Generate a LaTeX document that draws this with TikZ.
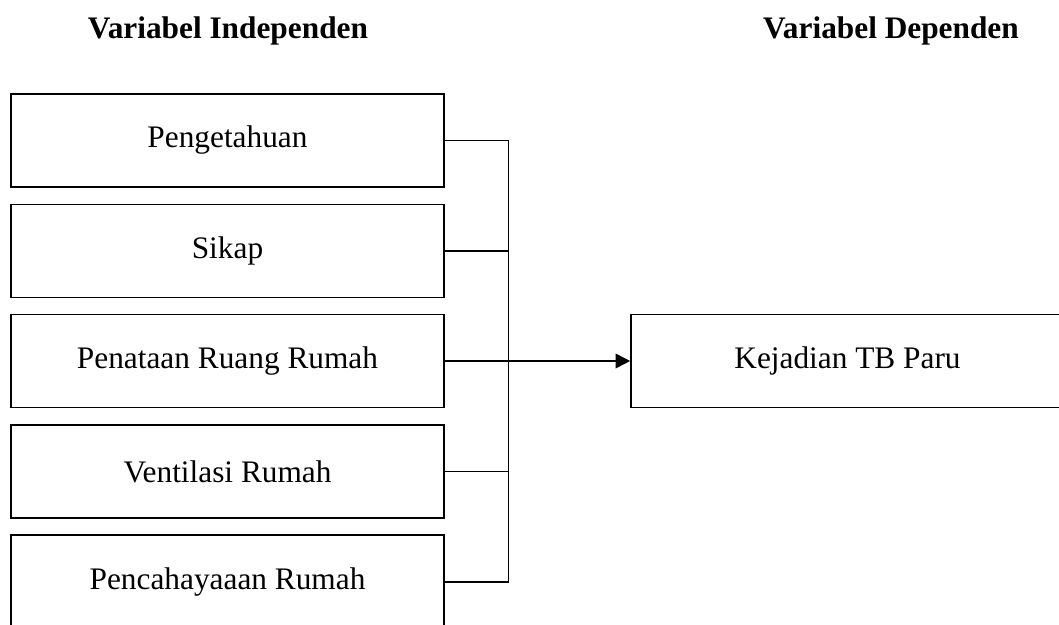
\documentclass[tikz,border=0pt]{standalone}
\usepackage{fontspec}
\setmainfont{Liberation Serif}
\usetikzlibrary{arrows.meta}
\begin{document}
\begin{tikzpicture}[x=0.75pt,y=-0.75pt,
  varbox/.style={draw,line width=1.2pt,minimum width=324.75pt,minimum height=69.75pt,inner sep=0pt,font=\fontsize{23.5}{28}\selectfont},
  head/.style={font=\fontsize{23.5}{28}\selectfont\bfseries},
  conn/.style={line width=1.2pt}]
\useasboundingbox (0,0) rectangle (1059,624);
\clip (0,0) rectangle (1059,624);
\node[head] (h1) at (228,31) {Variabel Independen};
\node[head] (h2) at (891,31) {Variabel Dependen};
\node[varbox] (b1) at (227.5,140.5) {Pengetahuan};
\node[varbox] (b2) at (227.5,250.8) {Sikap};
\node[varbox] (b3) at (227.5,361) {Penataan Ruang Rumah};
\node[varbox] (b4) at (227.5,471.4) {Ventilasi Rumah};
\node[varbox] (b5) at (227.5,581.7) {Pencahayaaan Rumah};
\node[varbox] (k) at (847.5,361) {Kejadian TB Paru};
\coordinate (bus) at (508.5,0);
\foreach \b in {b1,b2,b4,b5}{
  \draw[conn] (\b.east) -- (\b.east -| bus);
}
\draw[conn] (b1.east -| bus) -- (b5.east -| bus);
\draw[conn,-{Triangle[length=11pt,width=11pt]}] (b3.east) -- (k.west);
\end{tikzpicture}
\end{document}
